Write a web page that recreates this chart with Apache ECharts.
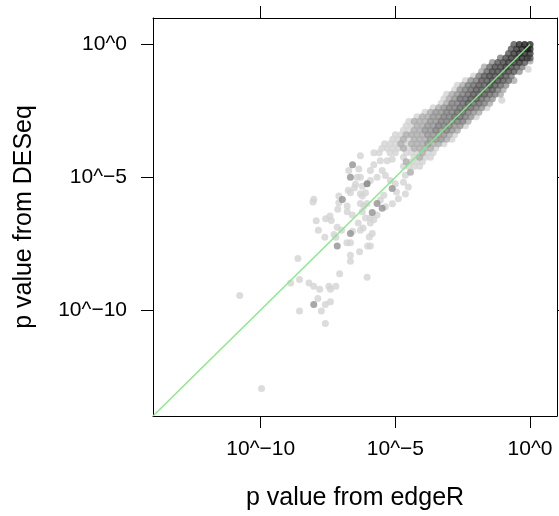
<!DOCTYPE html>
<html>
<head>
<meta charset="utf-8">
<script src="https://cdn.jsdelivr.net/npm/echarts@6/dist/echarts.min.js"></script>
<style>
html,body{margin:0;padding:0;background:#fff;}
#chart{width:559px;height:516px;}
</style>
</head>
<body>
<div id="chart"></div>
<script>
// Axis ticks (log10 p) and their labels
const tickValues = [-10, -5, 0];
const tickLabels = ['10^\u221210', '10^\u22125', '10^0'];
const axisRange = [-14, 1];
const xTitle = 'p value from edgeR';
const yTitle = 'p value from DESeq';

// hexbin cells: [log10 p edgeR, log10 p DESeq, bin count level]
const coreCells = [
  [0,0,9],[-0.2,0,10],[-0.4,0,9],[-0.6,0,6],
  [0,-0.17,9],[-0.1,-0.17,10],[-0.3,-0.17,9],[-0.5,-0.17,8],[-0.7,-0.17,6],
  [0,-0.34,8],[-0.2,-0.34,9],[-0.4,-0.34,9],[-0.6,-0.34,8],[-0.8,-0.34,6],
  [0,-0.51,6],[-0.1,-0.51,8],[-0.3,-0.51,9],[-0.5,-0.51,8],[-0.7,-0.51,8],[-0.9,-0.51,7],[-1.1,-0.51,4],
  [-0.2,-0.68,6],[-0.4,-0.68,8],[-0.6,-0.68,8],[-0.8,-0.68,8],[-1.0,-0.68,7],[-1.2,-0.68,6],[-1.4,-0.68,3],
  [-0.3,-0.85,4],[-0.5,-0.85,6],[-0.7,-0.85,7],[-0.9,-0.85,8],[-1.1,-0.85,7],[-1.3,-0.85,7],[-1.5,-0.85,5],[-1.7,-0.85,2],
  [-0.4,-1.02,3],[-0.6,-1.02,6],[-0.8,-1.02,7],[-1.0,-1.02,7],[-1.2,-1.02,7],[-1.4,-1.02,7],[-1.6,-1.02,5],[-1.8,-1.02,2],
  [-0.7,-1.19,4],[-0.9,-1.19,6],[-1.1,-1.19,7],[-1.3,-1.19,7],[-1.5,-1.19,7],[-1.7,-1.19,6],[-1.9,-1.19,4],[-2.1,-1.19,1],
  [-0.6,-1.36,2],[-0.8,-1.36,5],[-1.0,-1.36,6],[-1.2,-1.36,7],[-1.4,-1.36,7],[-1.6,-1.36,6],[-1.8,-1.36,6],[-2.0,-1.36,4],[-2.2,-1.36,3],[-2.4,-1.36,1],
  [-0.9,-1.53,3],[-1.1,-1.53,5],[-1.3,-1.53,6],[-1.5,-1.53,7],[-1.7,-1.53,6],[-1.9,-1.53,6],[-2.1,-1.53,5],[-2.3,-1.53,4],[-2.5,-1.53,2],[-2.7,-1.53,1],
  [-1.0,-1.7,2],[-1.2,-1.7,4],[-1.4,-1.7,6],[-1.6,-1.7,6],[-1.8,-1.7,6],[-2.0,-1.7,6],[-2.2,-1.7,5],[-2.4,-1.7,4],[-2.6,-1.7,3],[-2.8,-1.7,1],
  [-1.1,-1.87,2],[-1.3,-1.87,4],[-1.5,-1.87,5],[-1.7,-1.87,6],[-1.9,-1.87,6],[-2.1,-1.87,6],[-2.3,-1.87,5],[-2.5,-1.87,4],[-2.7,-1.87,3],[-2.9,-1.87,2],[-3.1,-1.87,1]
];
const midCells = [
  [-1.4,-2.04,3],[-1.6,-2.04,4],[-1.8,-2.04,5],[-2.0,-2.04,6],[-2.2,-2.04,6],[-2.4,-2.04,5],[-2.6,-2.04,5],[-2.8,-2.04,3],[-3.0,-2.04,2],[-3.2,-2.04,1],
  [-1.5,-2.21,2],[-1.7,-2.21,4],[-1.9,-2.21,5],[-2.1,-2.21,5],[-2.3,-2.21,6],[-2.5,-2.21,5],[-2.7,-2.21,4],[-2.9,-2.21,4],[-3.1,-2.21,2],[-3.3,-2.21,1],
  [-1.6,-2.38,1],[-1.8,-2.38,3],[-2.0,-2.38,4],[-2.2,-2.38,5],[-2.4,-2.38,5],[-2.6,-2.38,5],[-2.8,-2.38,4],[-3.0,-2.38,4],[-3.2,-2.38,3],[-3.4,-2.38,2],[-3.6,-2.38,1],
  [-1.9,-2.55,2],[-2.1,-2.55,3],[-2.3,-2.55,4],[-2.5,-2.55,5],[-2.7,-2.55,5],[-2.9,-2.55,4],[-3.1,-2.55,4],[-3.3,-2.55,3],[-3.5,-2.55,3],[-3.7,-2.55,2],[-3.9,-2.55,1],
  [-2.0,-2.72,1],[-2.2,-2.72,3],[-2.4,-2.72,4],[-2.6,-2.72,5],[-2.8,-2.72,5],[-3.0,-2.72,4],[-3.2,-2.72,4],[-3.4,-2.72,3],[-3.6,-2.72,3],[-3.8,-2.72,2],[-4.0,-2.72,2],[-4.2,-2.72,1],
  [-2.3,-2.89,2],[-2.5,-2.89,4],[-2.7,-2.89,4],[-2.9,-2.89,4],[-3.1,-2.89,4],[-3.3,-2.89,4],[-3.5,-2.89,3],[-3.7,-2.89,3],[-3.9,-2.89,2],[-4.1,-2.89,2],[-4.3,-2.89,2],[-4.5,-2.89,1],
  [-2.4,-3.06,1],[-2.6,-3.06,3],[-2.8,-3.06,3],[-3.0,-3.06,4],[-3.2,-3.06,4],[-3.4,-3.06,4],[-3.6,-3.06,3],[-3.8,-3.06,3],[-4.0,-3.06,2],[-4.2,-3.06,2],[-4.4,-3.06,1],[-4.6,-3.06,1],
  [-2.7,-3.23,2],[-2.9,-3.23,3],[-3.1,-3.23,4],[-3.3,-3.23,3],[-3.5,-3.23,4],[-3.7,-3.23,3],[-3.9,-3.23,3],[-4.1,-3.23,2],[-4.3,-3.23,2],[-4.5,-3.23,1],[-4.7,-3.23,1],
  [-2.8,-3.4,1],[-3.0,-3.4,2],[-3.2,-3.4,3],[-3.4,-3.4,3],[-3.6,-3.4,3],[-3.8,-3.4,3],[-4.0,-3.4,2],[-4.2,-3.4,2],[-4.4,-3.4,2],[-4.6,-3.4,2],[-4.8,-3.4,1],[-5.0,-3.4,1],
  [-2.9,-3.57,1],[-3.1,-3.57,2],[-3.3,-3.57,3],[-3.5,-3.57,3],[-3.7,-3.57,3],[-3.9,-3.57,2],[-4.1,-3.57,2],[-4.3,-3.57,2],[-4.5,-3.57,1],[-4.7,-3.57,2],[-4.9,-3.57,1],[-5.1,-3.57,1],
  [-3.2,-3.74,1],[-3.4,-3.74,2],[-3.6,-3.74,2],[-3.8,-3.74,3],[-4.0,-3.74,2],[-4.2,-3.74,2],[-4.4,-3.74,2],[-4.6,-3.74,1],[-4.8,-3.74,2],[-5.0,-3.74,1],[-5.2,-3.74,1],[-5.4,-3.74,1]
];
const tailCells = [
  [-3.5,-3.91,1],[-3.7,-3.91,2],[-3.9,-3.91,2],[-4.1,-3.91,2],[-4.3,-3.91,2],[-4.5,-3.91,1],[-4.7,-3.91,2],[-4.9,-3.91,1],[-5.1,-3.91,1],[-5.3,-3.91,1],[-5.5,-3.91,1],
  [-3.6,-4.08,1],[-3.8,-4.08,1],[-4.0,-4.08,2],[-4.2,-4.08,1],[-4.4,-4.08,1],[-4.6,-4.08,1],[-5.0,-4.08,1],[-5.2,-4.08,1],[-5.6,-4.08,1],[-5.8,-4.08,1],
  [-3.7,-4.25,1],[-3.9,-4.25,1],[-4.1,-4.25,2],[-4.3,-4.25,1],[-4.7,-4.25,1],
  [-4.0,-4.42,1],[-4.2,-4.42,1],[-4.4,-4.42,1],[-4.6,-4.42,2],
  [-4.1,-4.59,1],[-4.3,-4.59,1],[-4.5,-4.59,1],[-4.7,-4.59,1],
  [-4.63,-4.93,1],[-4.44,-4.81,2],[-4.70,-5.19,1],[-4.52,-5.37,1],[-4.63,-5.63,1],[-4.89,-5.81,1],[-5.11,-6.0,1],[-5.37,-6.11,1]
];
const sparseCells = [
  [-6.30,-4.19,1],[-6.59,-4.53,3],[-6.73,-4.75,1],[-6.36,-4.69,1],[-6.67,-5.0,3],[-6.42,-5.0,1],[-6.30,-5.0,1],
  [-6.48,-5.27,1],[-6.23,-5.34,1],[-6.05,-5.25,4],[-6.75,-5.49,1],[-6.67,-5.59,1],[-6.52,-5.40,1],
  [-6.30,-5.62,1],[-6.23,-5.71,1],[-6.11,-5.59,1],[-6.30,-5.99,1],[-6.17,-6.09,1],[-6.05,-5.99,1],[-6.23,-6.30,1],
  [-6.11,-6.54,1],[-5.93,-6.54,1],[-5.93,-6.73,1],[-6.20,-6.91,1],[-5.86,-7.12,1],[-5.80,-6.60,1],
  [-5.86,-6.33,3],[-5.68,-6.42,1],[-5.68,-5.99,3],[-5.49,-6.17,3],[-5.56,-5.86,1],[-5.43,-5.68,1],
  [-5.93,-5.12,1],[-5.93,-4.75,1],[-5.68,-5.0,1],[-5.80,-4.53,1],[-5.56,-4.38,1],[-5.31,-4.38,1],[-5.12,-4.32,1],
  [-5.49,-4.75,1],[-5.37,-4.94,1],[-5.19,-5.12,1],[-5.0,-5.25,1],[-5.12,-5.43,3],[-4.96,-5.56,1],
  [-7.10,-5.71,1],[-6.97,-5.84,3],[-7.10,-5.96,1],[-6.79,-6.09,1],[-7.14,-6.21,1],[-6.79,-6.30,1],[-6.60,-6.42,1],
  [-8.06,-5.93,1],[-8.03,-5.83,1],[-7.94,-6.64,1],[-7.59,-6.57,1],[-7.43,-6.46,1],[-7.38,-6.63,1],
  [-7.86,-7.0,1],[-7.28,-7.16,1],[-7.16,-6.89,1],[-7.0,-7.0,1],[-6.67,-7.12,3],[-6.59,-7.04,1],
  [-6.38,-6.73,1],[-6.30,-7.0,1],[-6.03,-7.59,1],[-5.93,-7.59,1],[-5.97,-7.25,1]
];
const outlierCells = [
  [0,-0.62,2],[-0.07,-0.93,1],[-1.05,-2.10,1],
  [-7.62,-7.26,1],[-7.21,-7.26,1],[-7.16,-7.59,3],[-6.80,-7.47,1],[-6.67,-7.47,1],
  [-6.67,-7.94,1],[-6.67,-8.17,1],[-6.33,-7.81,1],[-6.05,-8.77,1],[-7.07,-8.64,1],
  [-8.62,-8.06,1],[-8.89,-8.99,1],[-8.56,-8.86,1],[-8.21,-8.99,1],[-8.03,-9.11,1],
  [-7.81,-9.22,1],[-7.47,-9.11,1],[-7.41,-9.22,1],[-7.21,-9.11,1],
  [-7.88,-9.57,1],[-8.03,-9.80,3],[-7.60,-9.80,1],[-7.41,-9.69,1],[-7.75,-10.04,1],
  [-8.56,-10.04,1],[-7.60,-10.51,1],
  [-10.78,-9.46,1],[-9.97,-12.96,1]
];
// reference line y = x
const refLine = [[-14, -14], [0, 0]];

const FONT = "'Liberation Sans', Arial, Helvetica, sans-serif";
const cells = [...coreCells, ...midCells, ...tailCells, ...sparseCells, ...outlierCells]
  .slice().sort((a, b) => a[2] - b[2]);
const grey = c => {
  const g = Math.round(211 - 185 * Math.pow((c - 1) / 9, 0.7));
  return 'rgb(' + g + ',' + g + ',' + g + ')';
};
const fmt = v => { const i = tickValues.indexOf(v); return i >= 0 ? tickLabels[i] : ''; };

function axis(pos, labelled, margin, extra) {
  return Object.assign({
    type: 'value', min: axisRange[0], max: axisRange[1], position: pos,
    axisLine: { show: true, onZero: false, lineStyle: { color: '#000', width: 1 } },
    axisTick: { show: true, inside: false, length: 12, customValues: tickValues, lineStyle: { color: '#000', width: 1 } },
    axisLabel: { show: labelled, customValues: tickValues, formatter: fmt, margin: margin,
      fontSize: 21, color: '#000', fontFamily: FONT },
    splitLine: { show: false }
  }, extra || {});
}

const chart = echarts.init(document.getElementById('chart'), null, { renderer: 'canvas' });
chart.setOption({
  animation: false,
  backgroundColor: '#fff',
  grid: { left: 153, top: 18, width: 404, height: 404 },
  xAxis: [
    axis('bottom', true, 23, { name: xTitle, nameLocation: 'middle', nameGap: 70,
      nameTextStyle: { fontSize: 25, color: '#000', fontFamily: FONT } }),
    axis('top', false, 8)
  ],
  yAxis: [
    axis('left', true, 26, { name: yTitle, nameLocation: 'middle', nameGap: 116,
      nameTextStyle: { fontSize: 25, color: '#000', fontFamily: FONT } }),
    axis('right', false, 8)
  ],
  series: [
    {
      type: 'scatter', xAxisIndex: 0, yAxisIndex: 0, silent: true,
      symbol: 'circle', symbolSize: 7,
      data: cells.map(c => ({ value: [c[0], c[1]], itemStyle: { color: grey(c[2]) } })),
      z: 2
    },
    {
      type: 'line', xAxisIndex: 0, yAxisIndex: 0, silent: true, symbol: 'none',
      data: refLine, lineStyle: { color: '#86e886', width: 1.3 }, z: 5
    }
  ]
});
</script>
</body>
</html>
